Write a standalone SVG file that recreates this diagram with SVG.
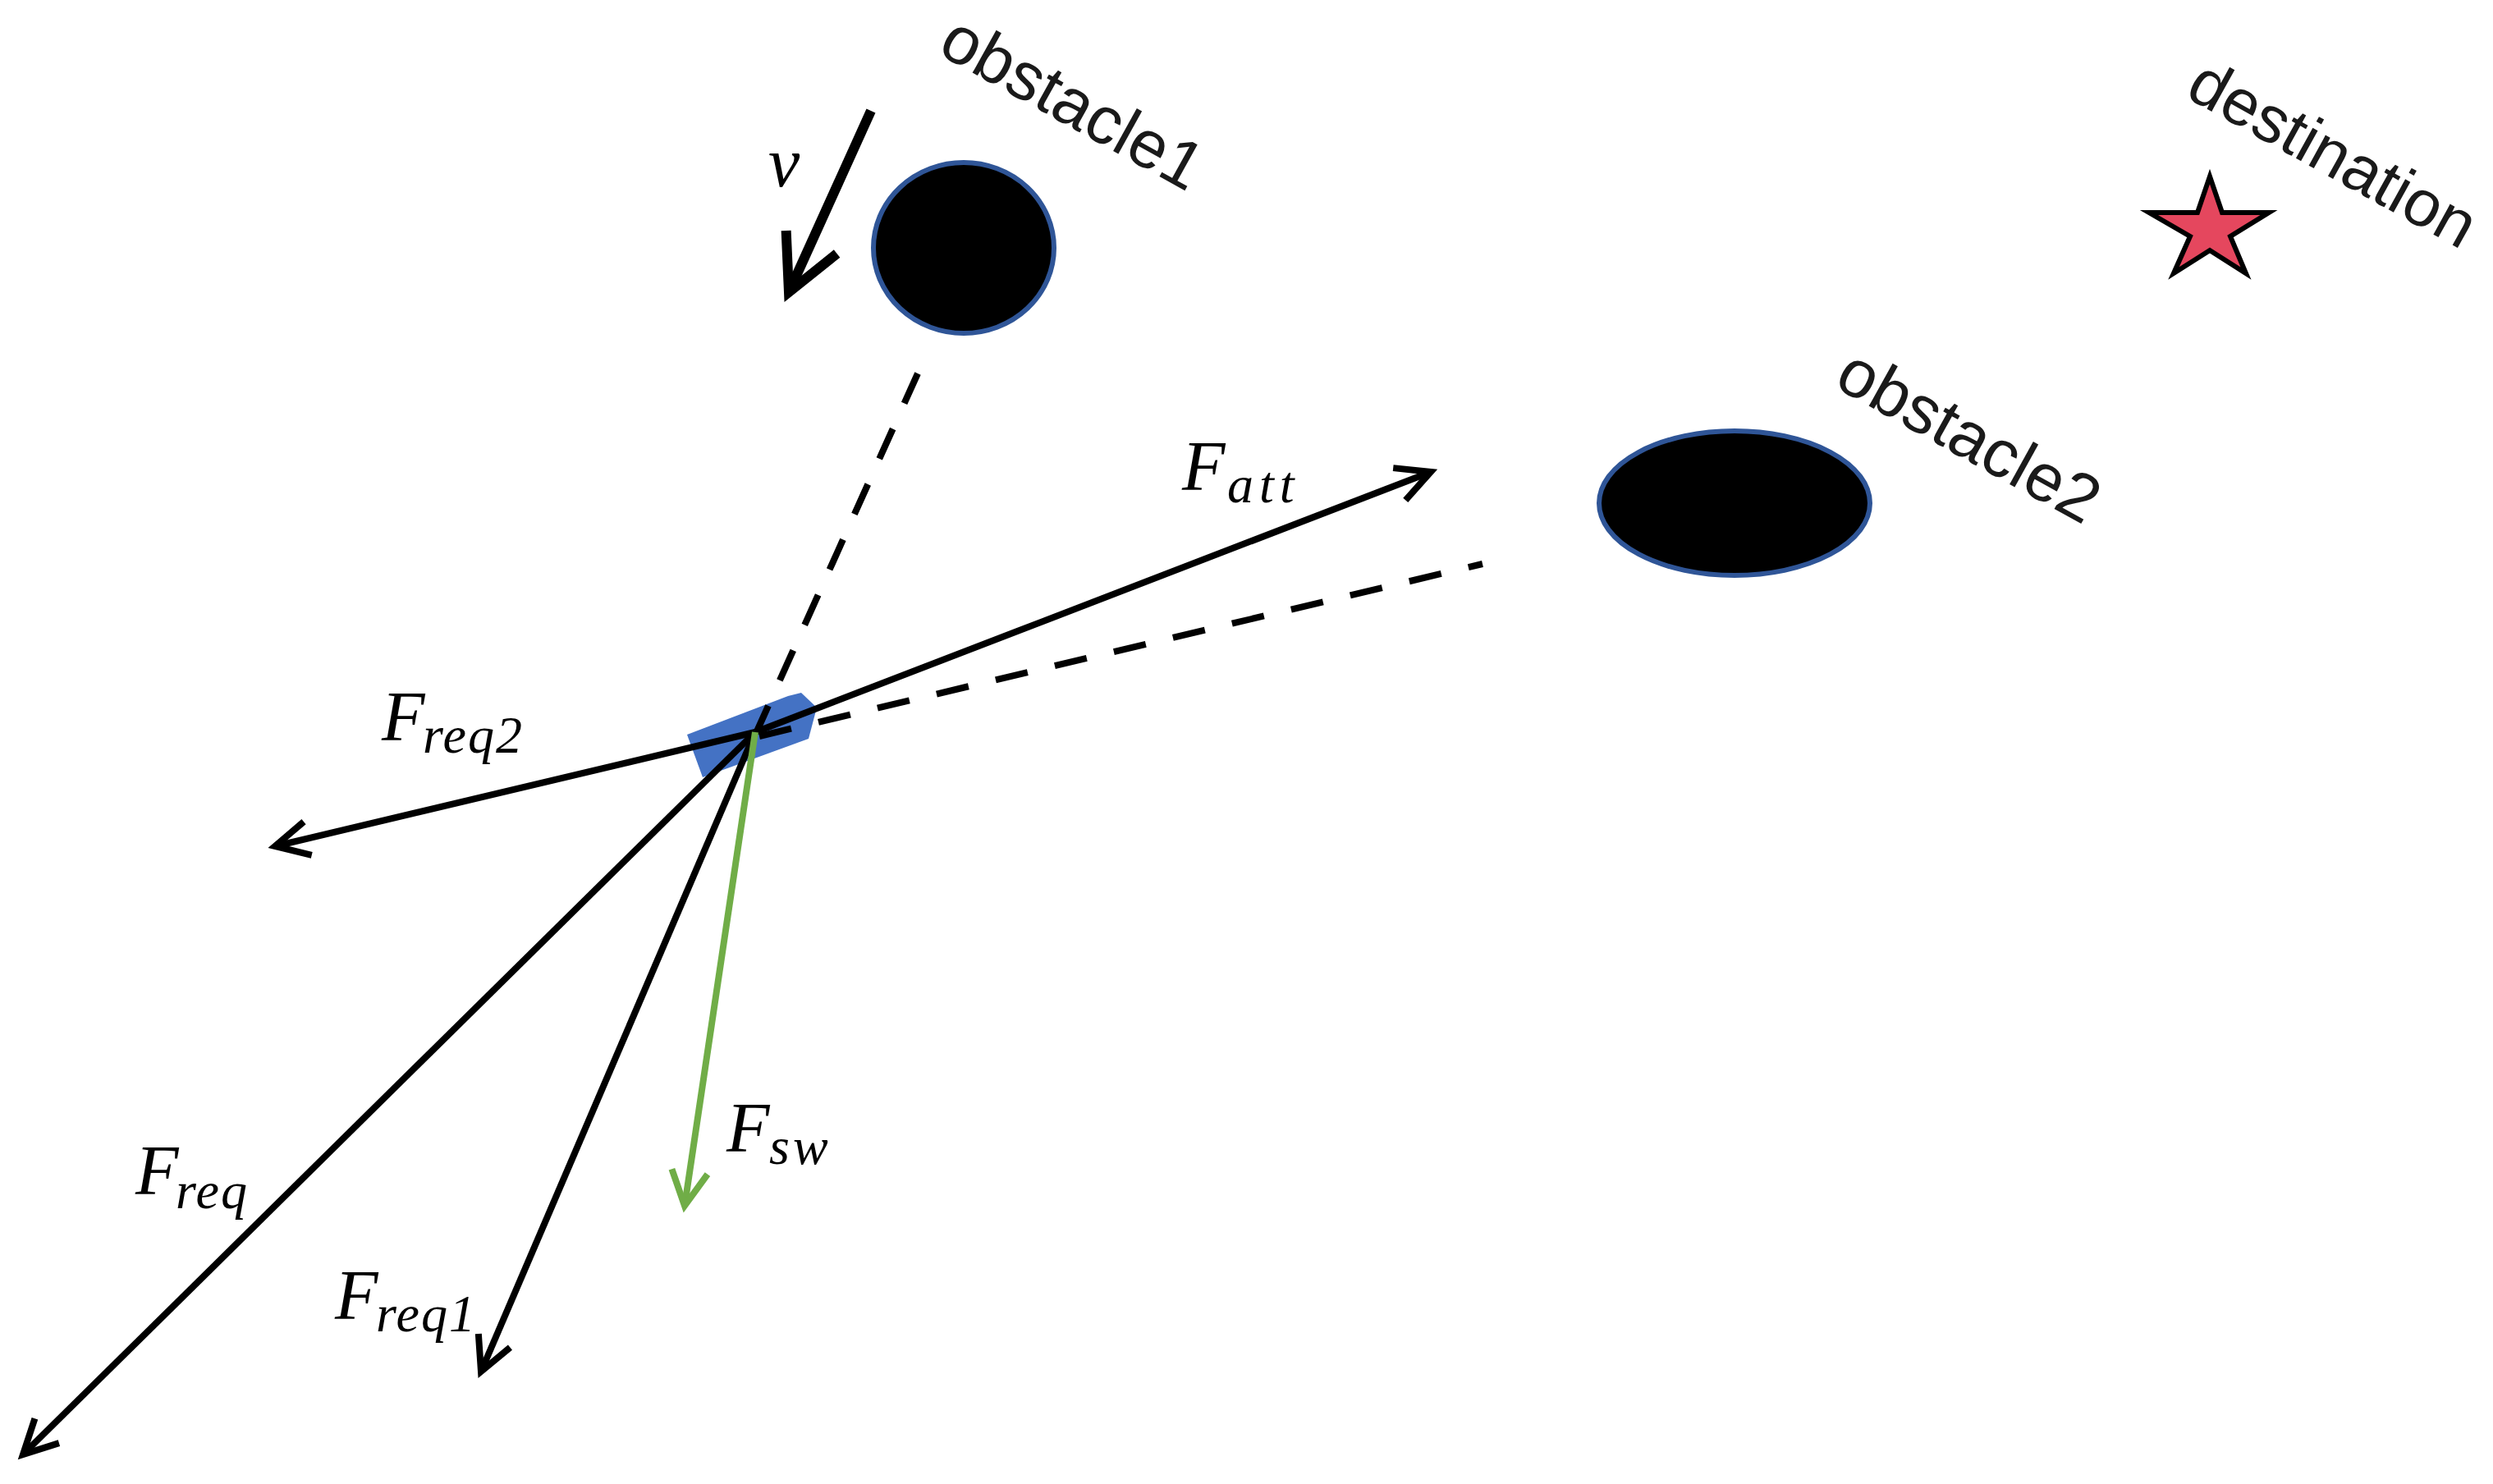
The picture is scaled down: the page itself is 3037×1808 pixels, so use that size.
<svg xmlns="http://www.w3.org/2000/svg" width="3037" height="1808" viewBox="0 0 3037 1808">
<style>
.lbl{font-family:"Liberation Sans",Arial,sans-serif;font-size:82px;fill:#1a1a1a}
.math{font-family:"Liberation Serif","Times New Roman",serif;font-style:italic;fill:#000}
.F{font-size:86px}
.sub{font-size:64px;letter-spacing:2px}
.obs{fill:#000;stroke:#2F5597;stroke-width:6}
.vec{fill:none;stroke:#000;stroke-width:8}
.green{fill:none;stroke:#70AD47;stroke-width:8}
.dash{fill:none;stroke:#000;stroke-width:8;stroke-dasharray:40 34}
</style>
<defs>
<marker id="ah" markerUnits="userSpaceOnUse" orient="auto" refX="0" refY="0" markerWidth="120" markerHeight="120" viewBox="-60 -60 120 120" overflow="visible">
<path d="M-41,-21 L0,0 L-41,21" fill="none" stroke="#000" stroke-width="8"/>
</marker>
<marker id="ahg" markerUnits="userSpaceOnUse" orient="auto" refX="0" refY="0" markerWidth="120" markerHeight="120" viewBox="-60 -60 120 120" overflow="visible">
<path d="M-42,-22 L0,0 L-42,22" fill="none" stroke="#70AD47" stroke-width="8"/>
</marker>
<marker id="ahb" markerUnits="userSpaceOnUse" orient="auto" refX="0" refY="0" markerWidth="200" markerHeight="200" viewBox="-100 -100 200 200" overflow="visible">
<path d="M-67,-34 L0,0 L-67,34" fill="none" stroke="#000" stroke-width="12"/>
</marker>
</defs>
<rect width="3037" height="1808" fill="#fff"/>

<g id="obstacle1">
<ellipse class="obs" cx="1174" cy="302" rx="110" ry="104"/>
<text class="lbl" transform="translate(1140,64) rotate(29)">obstacle1</text>
</g>

<g id="obstacle2">
<ellipse class="obs" cx="2113" cy="613" rx="165" ry="88"/>
<text class="lbl" transform="translate(2232,470) rotate(29)">obstacle2</text>
</g>

<g id="destination">
<polygon points="2692,215 2707,259 2764,259 2717,288 2736,333 2692,305 2648,333 2668,288 2618,259 2677,259" fill="#E5475E" stroke="#000" stroke-width="6" stroke-linejoin="miter"/>
<text class="lbl" style="font-size:80px" transform="translate(2660,117) rotate(29)">destination</text>
</g>

<g id="vehicle">
<polygon points="837,895 960,848 976,844 995,862 985,900 856,947" fill="#4472C4"/>
</g>

<g id="connectors">
<line class="dash" x1="1118" y1="455" x2="922" y2="891"/>
<line class="dash" x1="925" y1="897" x2="1806" y2="687"/>
<line class="vec" x1="920" y1="892" x2="1743" y2="575" marker-end="url(#ah)"/>
<line class="vec" x1="920" y1="892" x2="335" y2="1031" marker-end="url(#ah)"/>
<line class="vec" x1="920" y1="892" x2="28" y2="1772" marker-end="url(#ah)"/>
<line class="vec" x1="920" y1="892" x2="586" y2="1671" marker-end="url(#ah)"/>
<line class="green" x1="920" y1="892" x2="834" y2="1469" marker-end="url(#ahg)"/>
<line fill="none" stroke="#000" stroke-width="12" x1="1061" y1="135" x2="961" y2="356" marker-end="url(#ahb)"/>
</g>

<g id="labels">
<text class="math F" x="936" y="227">v</text>
<text class="math" x="1440" y="597"><tspan class="F">F</tspan><tspan class="sub" x="1495" y="612" style="letter-spacing:7px">att</tspan></text>
<text class="math" x="465" y="902"><tspan class="F">F</tspan><tspan class="sub" x="515" y="917">req2</tspan></text>
<text class="math" x="165" y="1455"><tspan class="F">F</tspan><tspan class="sub" x="214" y="1472">req</tspan></text>
<text class="math" x="408" y="1607"><tspan class="F">F</tspan><tspan class="sub" x="458" y="1622">req1</tspan></text>
<text class="math" x="885" y="1403"><tspan class="F">F</tspan><tspan class="sub" x="937" y="1418" style="letter-spacing:4px">sw</tspan></text>
</g>
</svg>
